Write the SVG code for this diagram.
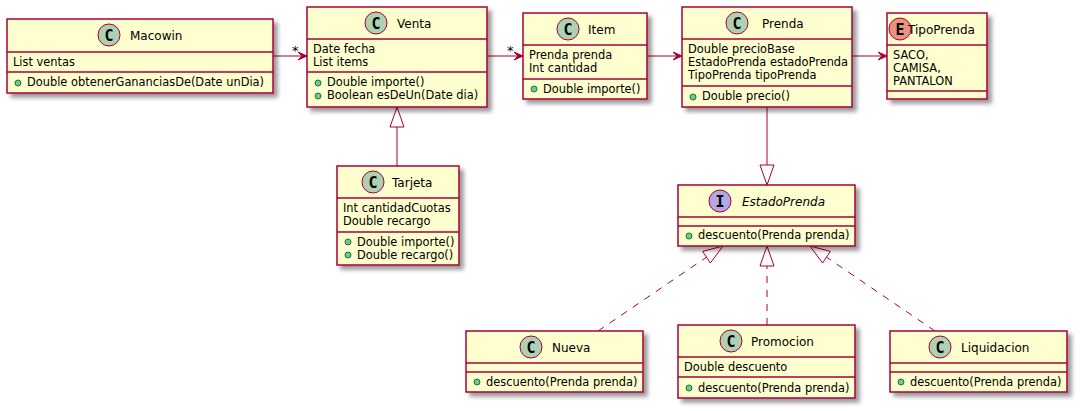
<svg xmlns="http://www.w3.org/2000/svg" width="1080" height="411" viewBox="0 0 1080 411">
<style>
.box{fill:#FEFECE;stroke:#A80036;stroke-width:1.5;filter:url(#sh)}
.sep{stroke:#A80036;stroke-width:1.5}
.ttl{font-family:"DejaVu Sans",sans-serif;font-size:12px;fill:#000}
.it{font-style:italic}
.txt{font-family:"DejaVu Sans",sans-serif;font-size:11.4px;fill:#000}
.lbl{font-family:"DejaVu Sans",sans-serif;font-size:13px;fill:#000}
.cc{fill:#ADD1B2;stroke:#A80036;stroke-width:1}
.ci{fill:#B4A7E5;stroke:#A80036;stroke-width:1}
.ce{fill:#EB937F;stroke:#A80036;stroke-width:1}
.glyph{font-family:"DejaVu Sans Mono",monospace;font-size:15px;font-weight:bold;fill:#000;text-anchor:middle}
.dot{fill:#84BE84;stroke:#038048;stroke-width:1}
.ln{stroke:#A80036;stroke-width:1;fill:none}
.dash{stroke-dasharray:7,7}
.head{fill:#A80036;stroke:#A80036;stroke-width:1}
.tri{fill:none;stroke:#A80036;stroke-width:1}
</style>
<defs>
<filter id="sh" x="-10%" y="-10%" width="130%" height="140%">
<feGaussianBlur in="SourceAlpha" stdDeviation="2" result="b"/>
<feOffset in="b" dx="4" dy="4" result="o"/>
<feComponentTransfer in="o" result="s"><feFuncA type="linear" slope="0.4"/></feComponentTransfer>
<feMerge><feMergeNode in="s"/><feMergeNode in="SourceGraphic"/></feMerge>
</filter>
</defs>

<g id="connectors">
<line class="ln" x1="273" y1="56" x2="302" y2="56"/>
<polygon class="head" points="307,56 298,52 302,56 298,60"/>
<text class="lbl" x="292" y="55">*</text>
<line class="ln" x1="487" y1="56" x2="518" y2="56"/>
<polygon class="head" points="523,56 514,52 518,56 514,60"/>
<text class="lbl" x="507" y="55">*</text>
<line class="ln" x1="647" y1="56" x2="677" y2="56"/>
<polygon class="head" points="682,56 673,52 677,56 673,60"/>
<line class="ln" x1="852" y1="56" x2="882" y2="56"/>
<polygon class="head" points="887,56 878,52 882,56 878,60"/>
<line class="ln" x1="397" y1="127" x2="397" y2="166"/>
<polygon class="tri" points="397,107 390,127 404,127"/>
<line class="ln" x1="767" y1="107" x2="767" y2="165"/>
<polygon class="tri" points="767,185 760,165 774,165"/>
<line class="ln dash" x1="767" y1="325" x2="767" y2="266"/>
<polygon class="tri" points="767,246 760,266 774,266"/>
<line class="ln dash" x1="598" y1="331" x2="706.5" y2="257.2"/>
<polygon class="tri" points="723,246 702.6,251.4 710.4,263"/>
<line class="ln dash" x1="935" y1="331" x2="826.5" y2="257.2"/>
<polygon class="tri" points="810,246 830.4,251.4 822.6,263"/>
</g>

<g id="Macowin">
<rect class="box" x="7" y="19" width="266" height="74"/>
<line class="sep" x1="7" y1="52" x2="273" y2="52"/>
<line class="sep" x1="7" y1="72" x2="273" y2="72"/>
<circle class="cc" cx="109" cy="35" r="11"/>
<text class="glyph" x="109" y="40.5">C</text>
<text class="ttl" x="130" y="40">Macowin</text>
<text class="txt" x="13" y="66">List ventas</text>
<circle class="dot" cx="18" cy="83" r="3"/>
<text class="txt" x="27" y="86">Double obtenerGananciasDe(Date unDia)</text>
</g>

<g id="Venta">
<rect class="box" x="307" y="7" width="180" height="100"/>
<line class="sep" x1="307" y1="39" x2="487" y2="39"/>
<line class="sep" x1="307" y1="72" x2="487" y2="72"/>
<circle class="cc" cx="376" cy="23" r="11"/>
<text class="glyph" x="376" y="28.5">C</text>
<text class="ttl" x="397" y="28">Venta</text>
<text class="txt" x="313" y="53">Date fecha</text>
<text class="txt" x="313" y="66">List items</text>
<circle class="dot" cx="318" cy="83" r="3"/>
<text class="txt" x="327" y="86">Double importe()</text>
<circle class="dot" cx="318" cy="96" r="3"/>
<text class="txt" x="327" y="99">Boolean esDeUn(Date dia)</text>
</g>

<g id="Item">
<rect class="box" x="523" y="13" width="124" height="86"/>
<line class="sep" x1="523" y1="45" x2="647" y2="45"/>
<line class="sep" x1="523" y1="79" x2="647" y2="79"/>
<circle class="cc" cx="568" cy="29" r="11"/>
<text class="glyph" x="568" y="34.5">C</text>
<text class="ttl" x="588" y="34">Item</text>
<text class="txt" x="529" y="59">Prenda prenda</text>
<text class="txt" x="529" y="72">Int cantidad</text>
<circle class="dot" cx="534" cy="89" r="3"/>
<text class="txt" x="543" y="93">Double importe()</text>
</g>

<g id="Prenda">
<rect class="box" x="682" y="7" width="170" height="100"/>
<line class="sep" x1="682" y1="39" x2="852" y2="39"/>
<line class="sep" x1="682" y1="86" x2="852" y2="86"/>
<circle class="cc" cx="737" cy="23" r="11"/>
<text class="glyph" x="737" y="28.5">C</text>
<text class="ttl" x="762" y="28">Prenda</text>
<text class="txt" x="688" y="53">Double precioBase</text>
<text class="txt" x="688" y="66">EstadoPrenda estadoPrenda</text>
<text class="txt" x="688" y="79">TipoPrenda tipoPrenda</text>
<circle class="dot" cx="693" cy="97" r="3"/>
<text class="txt" x="702" y="100">Double precio()</text>
</g>

<g id="TipoPrenda">
<rect class="box" x="887" y="13" width="100" height="86"/>
<line class="sep" x1="887" y1="45" x2="987" y2="45"/>
<line class="sep" x1="887" y1="91" x2="987" y2="91"/>
<circle class="ce" cx="900" cy="29" r="11"/>
<text class="glyph" x="900" y="34.5">E</text>
<text class="ttl" x="908" y="34">TipoPrenda</text>
<text class="txt" x="893" y="59">SACO,</text>
<text class="txt" x="893" y="72">CAMISA,</text>
<text class="txt" x="893" y="85">PANTALON</text>
</g>

<g id="Tarjeta">
<rect class="box" x="337" y="166" width="122" height="99"/>
<line class="sep" x1="337" y1="198" x2="459" y2="198"/>
<line class="sep" x1="337" y1="232" x2="459" y2="232"/>
<circle class="cc" cx="373" cy="182" r="11"/>
<text class="glyph" x="373" y="187.5">C</text>
<text class="ttl" x="392" y="187">Tarjeta</text>
<text class="txt" x="343" y="212">Int cantidadCuotas</text>
<text class="txt" x="343" y="225">Double recargo</text>
<circle class="dot" cx="348" cy="242" r="3"/>
<text class="txt" x="357" y="246">Double importe()</text>
<circle class="dot" cx="348" cy="255" r="3"/>
<text class="txt" x="357" y="259">Double recargo()</text>
</g>

<g id="EstadoPrenda">
<rect class="box" x="678" y="185" width="177" height="61"/>
<line class="sep" x1="678" y1="217" x2="855" y2="217"/>
<line class="sep" x1="678" y1="226" x2="855" y2="226"/>
<circle class="ci" cx="720" cy="201" r="11"/>
<text class="glyph" x="720" y="206.5">I</text>
<text class="ttl it" x="742" y="206">EstadoPrenda</text>
<circle class="dot" cx="689" cy="236" r="3"/>
<text class="txt" x="698" y="239">descuento(Prenda prenda)</text>
</g>

<g id="Nueva">
<rect class="box" x="466" y="331" width="177" height="61"/>
<line class="sep" x1="466" y1="363" x2="643" y2="363"/>
<line class="sep" x1="466" y1="372" x2="643" y2="372"/>
<circle class="cc" cx="531" cy="347" r="11"/>
<text class="glyph" x="531" y="352.5">C</text>
<text class="ttl" x="552" y="352">Nueva</text>
<circle class="dot" cx="477" cy="382" r="3"/>
<text class="txt" x="486" y="386">descuento(Prenda prenda)</text>
</g>

<g id="Promocion">
<rect class="box" x="678" y="325" width="177" height="73"/>
<line class="sep" x1="678" y1="357" x2="855" y2="357"/>
<line class="sep" x1="678" y1="377" x2="855" y2="377"/>
<circle class="cc" cx="731" cy="341" r="11"/>
<text class="glyph" x="731" y="346.5">C</text>
<text class="ttl" x="751" y="346">Promocion</text>
<text class="txt" x="684" y="371">Double descuento</text>
<circle class="dot" cx="689" cy="388" r="3"/>
<text class="txt" x="698" y="392">descuento(Prenda prenda)</text>
</g>

<g id="Liquidacion">
<rect class="box" x="890" y="331" width="177" height="61"/>
<line class="sep" x1="890" y1="363" x2="1067" y2="363"/>
<line class="sep" x1="890" y1="372" x2="1067" y2="372"/>
<circle class="cc" cx="940" cy="347" r="11"/>
<text class="glyph" x="940" y="352.5">C</text>
<text class="ttl" x="961" y="352">Liquidacion</text>
<circle class="dot" cx="901" cy="382" r="3"/>
<text class="txt" x="910" y="386">descuento(Prenda prenda)</text>
</g>
</svg>
